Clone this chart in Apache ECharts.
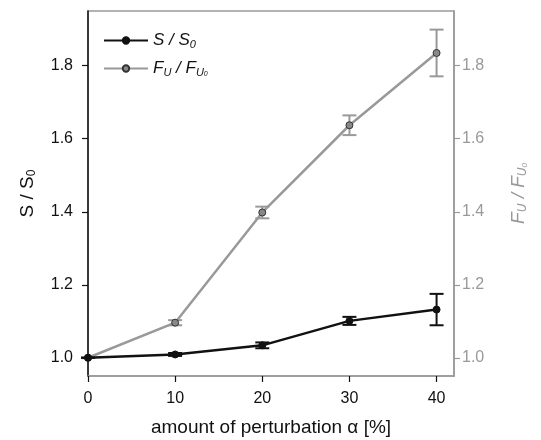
<!DOCTYPE html>
<html>
<head>
<meta charset="utf-8">
<script src="https://cdn.jsdelivr.net/npm/echarts@6/dist/echarts.min.js"></script>
<style>
  html, body { margin: 0; padding: 0; background: #fff; }
  #chart { width: 541px; height: 440px; }
</style>
</head>
<body>
<div id="chart"></div>
<script>
// 横轴 - 扰动量 (%)
const alphaValues = [0, 10, 20, 30, 40]
// S / S0
const sRatio = [1.0, 1.009, 1.034, 1.101, 1.132]
const sError = [0.0, 0.004, 0.008, 0.011, 0.043]
// F_U / F_U0
const fRatio = [1.0, 1.096, 1.398, 1.637, 1.835]
const fError = [0.0, 0.007, 0.016, 0.027, 0.064]
// 刻度
const xTicks = [0, 10, 20, 30, 40]
const yTicks = [1.0, 1.2, 1.4, 1.6, 1.8]

const BLACK = '#111'
const GRAY = '#999'
const FONT = 'Liberation Sans, Arial, sans-serif'

const toPoints = (ys) => alphaValues.map((x, i) => [x, ys[i]])
const toBars = (ys, es) => alphaValues.map((x, i) => [x, ys[i] - es[i], ys[i] + es[i]])

// 误差线
function errorBar(color) {
  return function (params, api) {
    const x = api.value(0)
    const lo = api.coord([x, api.value(1)])
    const hi = api.coord([x, api.value(2)])
    const w = 7
    const style = { stroke: color, lineWidth: 2 }
    return {
      type: 'group',
      children: [
        { type: 'line', shape: { x1: lo[0], y1: lo[1], x2: hi[0], y2: hi[1] }, style },
        { type: 'line', shape: { x1: lo[0] - w, y1: lo[1], x2: lo[0] + w, y2: lo[1] }, style },
        { type: 'line', shape: { x1: hi[0] - w, y1: hi[1], x2: hi[0] + w, y2: hi[1] }, style }
      ]
    }
  }
}

const yAxisBase = (color, lineColor, position, gap, labelMargin) => ({
  type: 'value',
  position,
  min: 0.95,
  max: 1.95,
  splitLine: { show: false },
  axisLine: { show: true, lineStyle: { color: lineColor, width: 1.5 } },
  axisTick: { show: true, length: 6, customValues: yTicks, lineStyle: { color: lineColor, width: 1.2 } },
  axisLabel: {
    customValues: yTicks,
    color,
    fontSize: 16,
    fontFamily: FONT,
    margin: labelMargin,
    formatter: (v) => v.toFixed(1)
  },
  nameLocation: 'middle',
  nameGap: gap,
  nameRotate: 90
})

const option = {
  animation: false,
  backgroundColor: '#fff',
  grid: {
    left: 88,
    right: 87,
    top: 11,
    bottom: 64,
    outerBoundsMode: 'none',
    containLabel: false,
    show: true,
    borderColor: GRAY,
    borderWidth: 1.5
  },
  legend: {
    left: 98,
    top: 27,
    orient: 'vertical',
    itemWidth: 44,
    itemHeight: 8,
    itemGap: 10,
    data: ['s', 'f'],
    formatter: (n) => (n === 's' ? '{i|S / S}{sub|0}' : '{i|F}{sub|U}{i| / F}{sub|U}{ss|0}'),
    textStyle: {
      fontFamily: FONT,
      rich: {
        i: { fontSize: 17, fontStyle: 'italic', color: BLACK, fontFamily: FONT },
        sub: { fontSize: 11, fontStyle: 'italic', color: BLACK, fontFamily: FONT, verticalAlign: 'bottom', padding: [8, 0, 0, 0] },
        ss: { fontSize: 7, fontStyle: 'italic', color: BLACK, fontFamily: FONT, verticalAlign: 'bottom', padding: [12, 0, 0, 0] }
      }
    }
  },
  xAxis: {
    type: 'value',
    min: 0,
    max: 42,
    splitLine: { show: false },
    axisLine: { show: true, lineStyle: { color: GRAY, width: 1.5 } },
    axisTick: { show: true, length: 6, customValues: xTicks, lineStyle: { color: BLACK, width: 1.2 } },
    axisLabel: { customValues: xTicks, color: BLACK, fontSize: 16, fontFamily: FONT, margin: 15 },
    name: 'amount of perturbation α [%]',
    nameLocation: 'middle',
    nameGap: 42,
    nameTextStyle: { color: BLACK, fontSize: 19, fontFamily: FONT }
  },
  yAxis: [
    Object.assign(yAxisBase(BLACK, BLACK, 'left', 50, 15), {
      name: '{i|S / S}{sub|0}',
      nameTextStyle: {
        rich: {
          i: { fontSize: 19, color: BLACK, fontFamily: FONT },
          sub: { fontSize: 12, color: BLACK, fontFamily: FONT, verticalAlign: 'bottom', padding: [9, 0, 0, 0] }
        }
      }
    }),
    Object.assign(yAxisBase(GRAY, GRAY, 'right', 54, 8), {
      name: '{i|F}{sub|U}{i| / F}{sub|U}{ss|0}',
      nameTextStyle: {
        rich: {
          i: { fontSize: 19, fontStyle: 'italic', color: GRAY, fontFamily: FONT },
          sub: { fontSize: 12, fontStyle: 'italic', color: GRAY, fontFamily: FONT, verticalAlign: 'bottom', padding: [9, 0, 0, 0] },
          ss: { fontSize: 8, fontStyle: 'italic', color: GRAY, fontFamily: FONT, verticalAlign: 'bottom', padding: [13, 0, 0, 0] }
        }
      }
    })
  ],
  series: [
    {
      type: 'custom',
      yAxisIndex: 1,
      renderItem: errorBar(GRAY),
      data: toBars(fRatio, fError),
      z: 1
    },
    {
      name: 'f',
      type: 'line',
      yAxisIndex: 1,
      data: toPoints(fRatio),
      symbol: 'circle',
      symbolSize: 7,
      lineStyle: { color: GRAY, width: 2.5 },
      itemStyle: { color: '#888', borderColor: '#333', borderWidth: 1 },
      z: 2
    },
    {
      type: 'custom',
      yAxisIndex: 0,
      renderItem: errorBar(BLACK),
      data: toBars(sRatio, sError),
      z: 3
    },
    {
      name: 's',
      type: 'line',
      yAxisIndex: 0,
      data: toPoints(sRatio),
      symbol: 'circle',
      symbolSize: 7,
      lineStyle: { color: BLACK, width: 2.5 },
      itemStyle: { color: BLACK, borderColor: BLACK, borderWidth: 1 },
      z: 4
    }
  ]
}

const chart = echarts.init(document.getElementById('chart'))
chart.setOption(option)
</script>
</body>
</html>
